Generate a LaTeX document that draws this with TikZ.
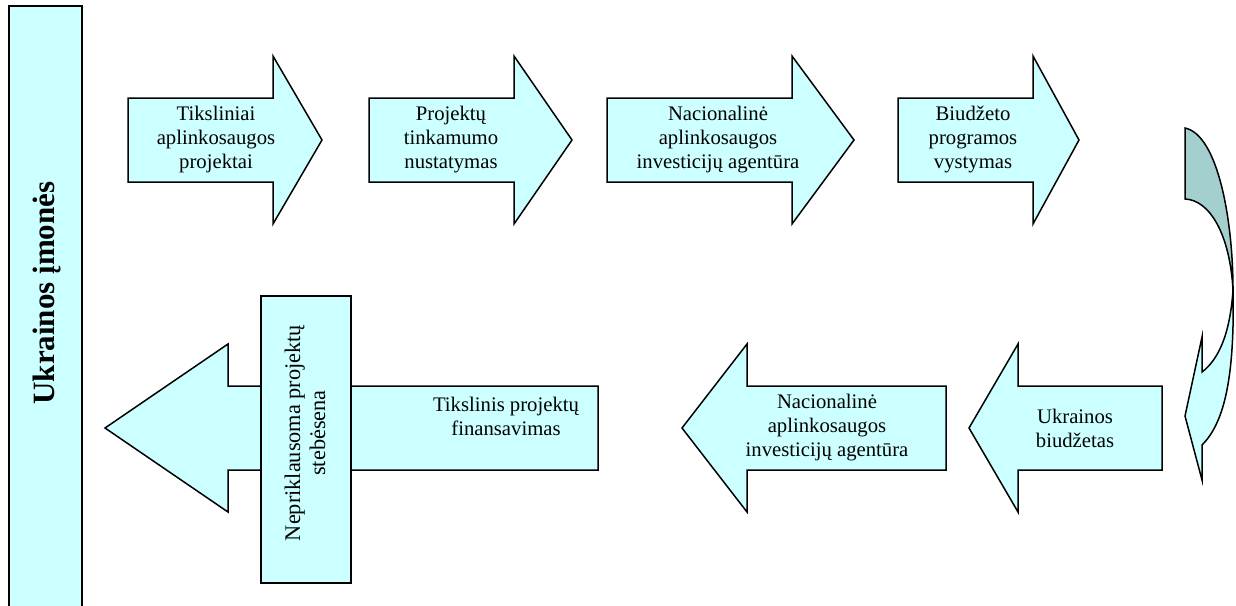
\documentclass[tikz,border=0pt]{standalone}
\usepackage{fontspec}
\setmainfont{Liberation Serif}
\definecolor{boxfill}{HTML}{CCFFFF}
\definecolor{darkfill}{RGB}{163,207,207}
\tikzset{
  arrowbody/.style={draw=black, line width=1.5pt, fill=boxfill, line join=miter},
  txt/.style={align=center, font=\fontsize{20.7}{24}\selectfont, inner sep=0pt}
}
\begin{document}
\begin{tikzpicture}[x=1pt,y=-1pt]
\useasboundingbox (0,0) rectangle (1236,605);
% left bar
\path[arrowbody] (9,610) -- (9,6) -- (82,6) -- (82,610);
\node[rotate=90, inner sep=0pt, font=\fontsize{31}{35}\selectfont\bfseries] (u) at (47,293) {Ukrainos įmonės};
% top arrows
\path[arrowbody] (128,98) -- (273,98) -- (273,56) -- (322,140) -- (273,224) -- (273,182) -- (128,182) -- cycle;
\path[arrowbody] (369,98) -- (514,98) -- (514,56) -- (572,140) -- (514,224) -- (514,182) -- (369,182) -- cycle;
\path[arrowbody] (607,98) -- (792,98) -- (792,56) -- (854,140) -- (792,224) -- (792,182) -- (607,182) -- cycle;
\path[arrowbody] (898,98) -- (1033,98) -- (1033,56) -- (1079,140) -- (1033,224) -- (1033,182) -- (898,182) -- cycle;
\node[txt] (t1) at (216,140) {Tiksliniai\\aplinkosaugos\\projektai};
\node[txt] (t2) at (451,140) {Projektų\\tinkamumo\\nustatymas};
\node[txt] (t3) at (718,140) {Nacionalinė\\aplinkosaugos\\investicijų agentūra};
\node[txt] (t4) at (973,140) {Biudžeto\\programos\\vystymas};
% curved arrow
\path[draw=black, line width=1.5pt, fill=darkfill] (1185,128) -- (1185,199) .. controls (1210,200) and (1230,235) .. (1233,290) .. controls (1233,220) and (1218,135) .. (1185,128) -- cycle;
\path[arrowbody] (1233,290) .. controls (1230,335) and (1218,360) .. (1202,372) -- (1202,337) -- (1185,416) -- (1202,480) -- (1202,445) .. controls (1222,425) and (1235,385) .. (1233,290) -- cycle;
% bottom arrows
\path[arrowbody] (1162,386) -- (1018,386) -- (1018,344) -- (969,428) -- (1018,512) -- (1018,470) -- (1162,470) -- cycle;
\path[arrowbody] (946,386) -- (747,386) -- (747,344) -- (682,428) -- (747,512) -- (747,470) -- (946,470) -- cycle;
\path[arrowbody] (598,386) -- (228,386) -- (228,344) -- (105,428) -- (228,512) -- (228,470) -- (598,470) -- cycle;
\node[txt] (b1) at (1075,428) {Ukrainos\\biudžetas};
\node[txt] (b2) at (827,428) {Nacionalinė\\aplinkosaugos\\investicijų agentūra};
\node[txt] (b3) at (506,416) {Tikslinis projektų\\finansavimas};
% vertical rectangle
\path[arrowbody] (261,296) rectangle (351,583);
\node[txt, rotate=90, font=\fontsize{22.3}{25}\selectfont] (v) at (305,433) {Nepriklausoma projektų\\stebėsena};
\end{tikzpicture}
\end{document}
